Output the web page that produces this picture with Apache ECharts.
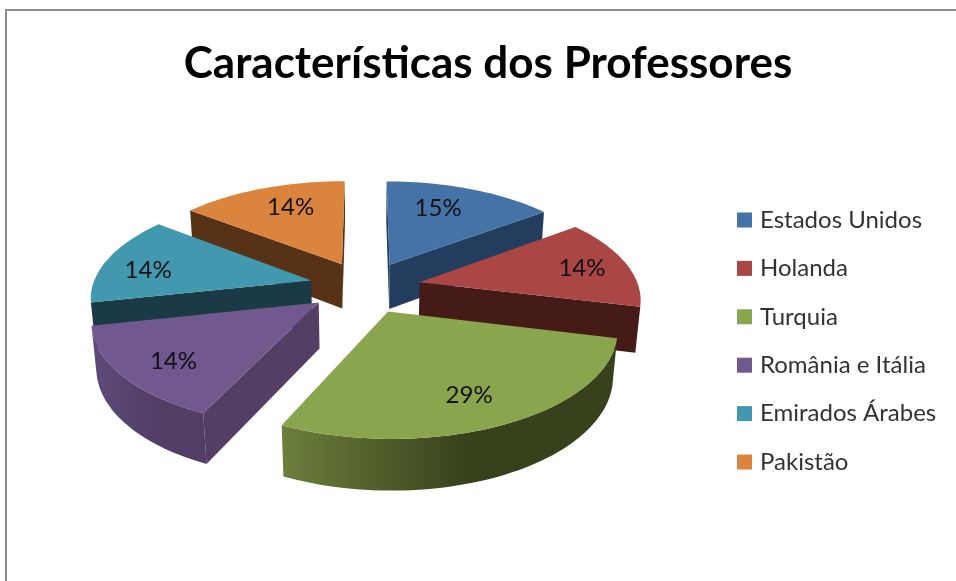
<!DOCTYPE html>
<html>
<head>
<meta charset="utf-8">
<title>Características dos Professores</title>
<script src="https://cdn.jsdelivr.net/npm/echarts@6/dist/echarts.min.js"></script>
<style>
html, body { margin: 0; padding: 0; background: #fff; }
#main { width: 956px; height: 581px; }
</style>
</head>
<body>
<div id="main"></div>
<script>
var chartTitle = "Características dos Professores";
var countries = ["Estados Unidos", "Holanda", "Turquia", "România e Itália", "Emirados Árabes", "Pakistão"];
var shares = [15, 14, 29, 14, 14, 14];

var topColors = ["#4572a7", "#aa4643", "#89a54e", "#71588f", "#4198af", "#db843d"];
var wallColors = ["#233d5e", "#451b18", "#37421c", "#533f66", "#1a3a45", "#573216"];
// left and right colour of the curved wall
var rimColors = [
	["#233d5e", "#233d5e"],
	["#451b18", "#451b18"],
	["#6c7f3c", "#37421c"],
	["#5f4a7a", "#523e65"],
	["#1a3a45", "#1a3a45"],
	["#573216", "#573216"]
];
// where each percentage sits on its slice, measured from the tip on the pie plane
var labelSpots = [[57, 143], [168, 32], [68, -152], [-128, -112], [-168, 24], [-60, 143]];
// the old 3D view draws slice edges a little off their true angle (degrees, per edge)
var edgeNudge = [0, -1, -0.7, -4, -1.5, -1.5, 0];

// projection of the tilted pie
var centerX = 365, centerY = 287;
var radius = 219, explode = 56, thickness = 52;
var sinTilt = 0.462, cosTilt = Math.sqrt(1 - sinTilt * sinTilt);
var cameraDist = 1350;

var total = 0;
for (var i = 0; i < shares.length; i++) {
	total += shares[i];
}

function sliceAngles(index) {
	var sum = 0;
	for (var i = 0; i < index; i++) {
		sum += shares[i];
	}
	var start = sum / total * Math.PI * 2;
	var end = (sum + shares[index]) / total * Math.PI * 2;
	return {
		start: start + edgeNudge[index] * Math.PI / 180,
		end: end + edgeNudge[index + 1] * Math.PI / 180,
		mid: (start + end) / 2
	};
}

function project(X, Y, Z) {
	var s = cameraDist / (cameraDist + Y * cosTilt - Z * sinTilt);
	return [centerX + X * s, centerY - (Y * sinTilt + Z * cosTilt) * s];
}

function polygonArea(points) {
	var area = 0;
	for (var i = 0; i < points.length; i++) {
		var p = points[i], q = points[(i + 1) % points.length];
		area += p[0] * q[1] - q[0] * p[1];
	}
	return area;
}

function renderSlice(params, api) {
	var index = params.seriesIndex;
	var share = api.value(0);
	var a = sliceAngles(index);
	var offX = explode * Math.sin(a.mid), offY = explode * Math.cos(a.mid);

	function rim(angle, Z) {
		return project(offX + radius * Math.sin(angle), offY + radius * Math.cos(angle), Z);
	}

	var children = [];
	var tipTop = project(offX, offY, 0), tipBottom = project(offX, offY, -thickness);

	var startWall = [tipTop, rim(a.start, 0), rim(a.start, -thickness), tipBottom];
	var endWall = [tipTop, rim(a.end, 0), rim(a.end, -thickness), tipBottom];
	if (polygonArea(startWall) < 0) {
		children.push({ type: "polygon", shape: { points: startWall }, style: { fill: wallColors[index] } });
	}
	if (polygonArea(endWall) > 0) {
		children.push({ type: "polygon", shape: { points: endWall }, style: { fill: wallColors[index] } });
	}

	var topFace = [tipTop], upper = [], lower = [];
	var steps = Math.ceil((a.end - a.start) / 0.03);
	for (var i = 0; i <= steps; i++) {
		var angle = a.start + (a.end - a.start) * i / steps;
		topFace.push(rim(angle, 0));
		var nx = Math.sin(angle), ny = Math.cos(angle);
		var worldX = offX + radius * nx, worldY = offY + radius * ny;
		// only the part of the rim turned to the camera
		if (nx * -worldX + ny * (-cameraDist * cosTilt - worldY) > 0) {
			upper.push(rim(angle, 0));
			lower.unshift(rim(angle, -thickness));
		}
	}
	if (upper.length > 1) {
		children.push({
			type: "polygon",
			shape: { points: upper.concat(lower) },
			style: {
				fill: {
					type: "linear", x: 0, y: 0, x2: 1, y2: 0,
					colorStops: [
						{ offset: 0, color: rimColors[index][0] },
						{ offset: 0.55, color: rimColors[index][1] },
						{ offset: 1, color: rimColors[index][1] }
					]
				}
			}
		});
	}
	children.push({ type: "polygon", shape: { points: topFace }, style: { fill: topColors[index] } });

	var labelPos = project(offX + labelSpots[index][0], offY + labelSpots[index][1], 0);
	children.push({
		type: "text",
		style: {
			x: labelPos[0],
			y: labelPos[1],
			text: Math.round(share / total * 100) + "%",
			font: "24px Lato",
			fill: "#111",
			align: "center",
			verticalAlign: "middle"
		}
	});
	return { type: "group", children: children };
}

function buildSeries() {
	// back slices first, so the front ones cover them
	var order = [];
	for (var i = 0; i < shares.length; i++) {
		order.push(i);
	}
	order.sort(function(p, q) {
		return Math.cos(sliceAngles(q).mid) - Math.cos(sliceAngles(p).mid);
	});
	var series = [];
	for (var j = 0; j < shares.length; j++) {
		series.push({
			type: "custom",
			name: countries[j],
			coordinateSystem: "none",
			silent: true,
			z: 2 + order.indexOf(j),
			itemStyle: { color: topColors[j] },
			renderItem: renderSlice,
			data: [[shares[j]]]
		});
	}
	return series;
}

var myChart = echarts.init(document.getElementById("main"), null, { renderer: "canvas" });
myChart.setOption({
	animation: false,
	backgroundColor: "#fff",
	color: topColors,
	title: {
		text: chartTitle,
		left: 483,
		top: 37,
		textAlign: "center",
		textStyle: { fontFamily: "Lato", fontWeight: "bold", fontSize: 44, color: "#000" }
	},
	legend: {
		orient: "vertical",
		left: 737,
		top: 207,
		padding: 0,
		data: countries,
		icon: "rect",
		itemWidth: 15,
		itemHeight: 15,
		itemGap: 22.4,
		selectedMode: false,
		textStyle: { fontFamily: "Lato", fontSize: 24, color: "#333", padding: [0, 0, 0, 3], lineHeight: 26 }
	},
	graphic: [{
		type: "polyline",
		silent: true,
		shape: { points: [[6, 581], [6, 10], [956, 10]] },
		style: { stroke: "#8c8c8c", lineWidth: 2, fill: null }
	}],
	series: buildSeries()
});
</script>
</body>
</html>
